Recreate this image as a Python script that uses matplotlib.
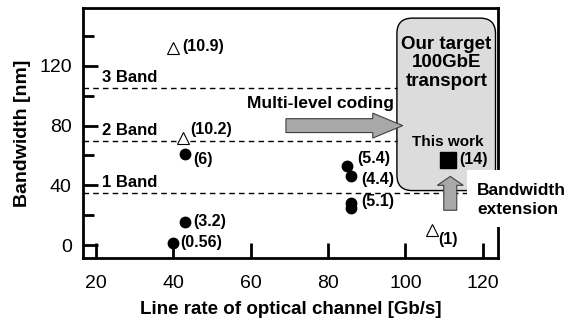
import matplotlib.pyplot as plt
from matplotlib.patches import FancyBboxPatch, FancyArrow, Rectangle

plt.rcParams['font.family'] = ['Liberation Sans', 'DejaVu Sans']

# 参考文献数据（圆点：已报道系统）
circ_x = [40, 43, 43, 85, 86, 86, 86]
circ_y = [1.5, 15.5, 61, 53, 46, 28, 25]
circ_lab = ['(0.56)', '(3.2)', '(6)', '(5.4)', '(4.4)', '(5.1)', '']

# 三角形数据
tri_x = [40, 42.5, 107]
tri_y = [132, 72, 10]
tri_lab = ['(10.9)', '(10.2)', '(1)']

# 本工作
sq_x = [111]
sq_y = [57]
sq_lab = ['(14)']

# 波段分界线
band_y = [35, 70, 105]
band_lab = ['1 Band', '2 Band', '3 Band']

xticks = [20, 40, 60, 80, 100, 120]
yticks = [0, 40, 80, 120]

fig = plt.figure(figsize=(5.72, 3.25), dpi=100)
ax = fig.add_axes([0.145, 0.206, 0.726, 0.769])
ax.set_xlim(16.6, 124)
ax.set_ylim(-8.7, 158.7)

# 目标区域（圆角框）
box = FancyBboxPatch((97.8, 36.5), 123.3 - 97.8, 152 - 36.5,
                     boxstyle='round,pad=0,rounding_size=4',
                     mutation_aspect=2.58, fc='#dcdcdc', ec='black',
                     lw=1, zorder=1, clip_on=False)
ax.add_patch(box)

# 虚线
for i, y in enumerate(band_y):
    xe = 124 if i == 0 else 97.8
    ax.plot([16.6, xe], [y, y], ls=(0, (4, 3)), color='black', lw=1, zorder=1.5)
    ax.text(21.5, y + 2, band_lab[i], fontsize=12, fontweight='bold',
            va='bottom', ha='left')

ax.plot(circ_x, circ_y, 'o', color='black', ms=7.5, zorder=4, clip_on=False)
ax.plot(tri_x, tri_y, '^', mfc='white', mec='black', mew=0.8, ms=9, zorder=4)
ax.plot(sq_x, sq_y, 's', color='black', ms=12, zorder=4)

circ_off = [(5, 0), (6, 0), (6, -4), (7, 5), (7, -2), (7, 1), (0, 0)]
for x, y, s, o in zip(circ_x, circ_y, circ_lab, circ_off):
    if s:
        ax.annotate(s, (x, y), xytext=o, textcoords='offset points',
                    fontsize=11.5, fontweight='bold', va='center', ha='left')
tri_off = [(6, 1), (5, 6), (4, -7)]
for x, y, s, o in zip(tri_x, tri_y, tri_lab, tri_off):
    ax.annotate(s, (x, y), xytext=o, textcoords='offset points',
                fontsize=11.5, fontweight='bold', va='center', ha='left')
ax.annotate(sq_lab[0], (sq_x[0], sq_y[0]), xytext=(8, 0), textcoords='offset points',
            fontsize=11.5, fontweight='bold', va='center', ha='left')

ax.text(110.6, 122, 'Our target\n100GbE\ntransport', fontsize=13.5,
        fontweight='bold', ha='center', va='center', linespacing=1.12, zorder=3)
ax.text(111, 69, 'This work', fontsize=11, fontweight='bold', ha='center',
        va='center', zorder=3)

# 箭头
ax.add_patch(FancyArrow(69.1, 80, 30.2 - 7.75, 0, width=9.3, head_width=16.7,
                        head_length=7.75, length_includes_head=False,
                        fc='#a8a8a8', ec='#404040', lw=0.8, zorder=3))
ax.text(59.0, 95, 'Multi-level coding', fontsize=12.5, fontweight='bold',
        ha='left', va='center')

ax.add_patch(FancyArrow(111.6, 23.3, 0, 22.7 - 6, width=3.36, head_width=6.7,
                        head_length=6, fc='#a8a8a8', ec='#404040', lw=0.8,
                        zorder=3))
ax.add_patch(Rectangle((115.9, 12), 30, 38, fc='white', ec='none', zorder=5,
                       clip_on=False))
ax.text(118.6, 30, 'Bandwidth\nextension', fontsize=12.5, fontweight='bold',
        ha='left', va='center', linespacing=1.3, zorder=6)

ax.set_xticks(xticks)
ax.set_yticks(yticks)
ax.set_yticks([20, 60, 100, 140], minor=True)
ax.tick_params(axis='both', which='major', direction='in', length=11, width=2,
               labelsize=14)
ax.tick_params(axis='x', pad=12)
ax.tick_params(axis='y', pad=8)
ax.tick_params(axis='y', which='minor', direction='in', length=8, width=2)
for sp in ax.spines.values():
    sp.set_linewidth(2)

ax.set_xlabel('Line rate of optical channel [Gb/s]', fontsize=13.5,
              fontweight='bold', labelpad=7)
ax.set_ylabel('Bandwidth [nm]', fontsize=14, fontweight='bold', labelpad=6)

fig.savefig('out.png', dpi=100)
